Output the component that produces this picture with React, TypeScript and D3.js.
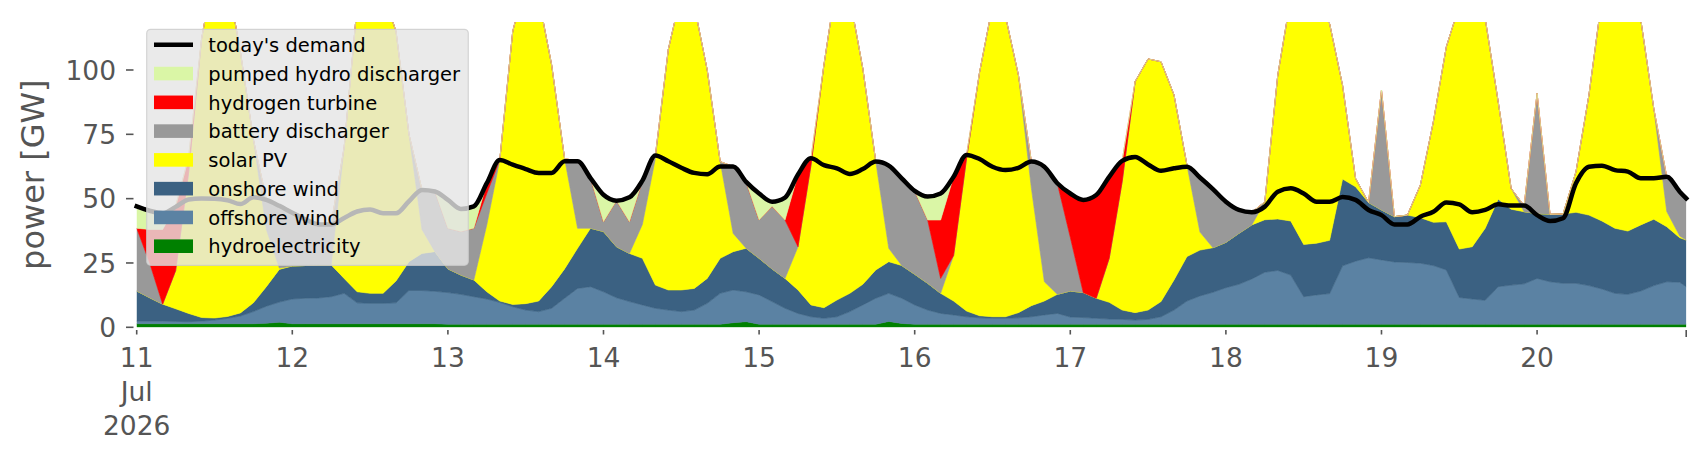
import { useEffect, useRef } from 'react';
import * as d3 from 'd3';

const WIDTH = 1706;
const HEIGHT = 460;

const start = new Date(2026, 6, 11, 0);
// hours after 11 Jul 00:00 for each sample (every 2 h, plus the final hour)
const hours = [...d3.range(0, 240, 2), 239];

const hydroelectricity = [
  1.4, 1.4, 1.4, 1.4, 1.4, 1.4, 1.4, 1.4, 1.4, 1.4, 1.6, 2.0,
  1.4, 1.4, 1.4, 1.4, 1.4, 1.4, 1.4, 1.4, 1.4, 1.4, 1.4, 1.4,
  1.2, 1.2, 1.2, 1.2, 1.2, 1.2, 1.2, 1.2, 1.2, 1.2, 1.2, 1.2,
  1.2, 1.2, 1.2, 1.2, 1.2, 1.2, 1.2, 1.2, 1.2, 1.2, 1.8, 2.2,
  1.2, 1.2, 1.2, 1.2, 1.2, 1.2, 1.2, 1.2, 1.2, 1.2, 2.3, 1.5,
  1.2, 1.2, 1.2, 1.2, 1.2, 1.2, 1.2, 1.2, 1.2, 1.2, 1.2, 1.2,
  1.2, 1.2, 1.2, 1.2, 1.2, 1.2, 1.2, 1.2, 1.2, 1.2, 1.2, 1.2,
  1.2, 1.2, 1.2, 1.2, 1.2, 1.2, 1.2, 1.2, 1.2, 1.2, 1.2, 1.2,
  1.2, 1.2, 1.2, 1.2, 1.2, 1.2, 1.2, 1.2, 1.2, 1.2, 1.2, 1.2,
  1.2, 1.2, 1.2, 1.2, 1.2, 1.2, 1.2, 1.2, 1.2, 1.2, 1.2, 1.2,
  1.2,
];

const offshoreWind = [
  1.0, 1.0, 1.0, 0.9, 0.8, 1.0, 1.4, 2.1, 3.0, 4.7, 6.6, 7.8,
  9.6, 9.9, 10.0, 10.5, 11.8, 8.1, 7.9, 7.9, 8.1, 12.9, 12.9, 12.6,
  12.3, 11.6, 10.7, 9.8, 8.5, 6.8, 5.5, 4.9, 6.2, 10.1, 13.9, 14.6,
  12.6, 10.3, 8.8, 7.5, 6.2, 5.5, 4.9, 5.5, 8.1, 12.0, 12.7, 11.6,
  11.4, 8.8, 6.2, 4.2, 2.9, 2.3, 2.9, 4.9, 7.5, 10.1, 10.9, 9.8,
  7.5, 5.5, 4.2, 3.6, 2.9, 2.5, 2.3, 2.3, 2.5, 2.9, 3.6, 4.2,
  2.8, 2.6, 2.3, 2.0, 1.9, 1.6, 1.9, 2.9, 5.5, 9.0, 11.0, 12.4,
  14.2, 15.5, 17.6, 20.2, 20.9, 19.1, 10.7, 11.4, 11.9, 22.7, 24.5, 25.8,
  25.0, 24.2, 24.0, 23.7, 22.8, 21.1, 10.4, 9.8, 9.3, 14.6, 15.2, 15.7,
  17.8, 16.5, 15.9, 15.9, 15.0, 13.7, 12.0, 11.6, 12.9, 15.0, 16.5, 16.3,
  14.6,
];

const onshoreWind = [
  11.7, 9.1, 6.6, 4.9, 3.2, 1.4, 0.8, 0.7, 1.2, 3.4, 7.6, 12.7,
  12.8, 12.7, 12.8, 12.3, 5.8, 4.3, 3.9, 3.9, 8.5, 11.2, 14.4, 15.4,
  9.2, 7.5, 6.5, 2.8, 0.5, 0.9, 2.5, 4.1, 8.4, 11.4, 15.6, 22.7,
  23.4, 19.8, 18.7, 18.1, 9.0, 7.8, 8.4, 8.4, 9.7, 13.6, 14.9, 16.9,
  14.2, 12.7, 11.6, 9.1, 4.6, 4.1, 6.5, 7.1, 8.0, 11.0, 12.3, 12.7,
  11.9, 10.4, 7.8, 5.4, 2.2, 0.8, 0.6, 0.6, 2.0, 4.3, 5.4, 7.4,
  10.1, 9.7, 7.8, 6.5, 3.6, 2.9, 3.6, 5.9, 11.7, 17.3, 17.8, 17.3,
  17.6, 19.8, 21.0, 20.4, 20.0, 21.0, 20.3, 20.1, 20.7, 33.7, 28.9, 21.5,
  19.4, 17.6, 18.4, 17.7, 16.8, 18.7, 18.8, 20.3, 28.0, 34.0, 29.5, 28.0,
  25.2, 26.2, 26.9, 27.6, 27.4, 26.4, 25.3, 24.6, 25.7, 25.8, 21.4, 17.3,
  18.1,
];

const solarPV = [
  0, 0, 0, 14.8, 54.6, 108.2, 136.4, 130.8, 101.4, 63.5, 22.2, 0.5,
  0, 0, 0, 0, 51, 111.2, 121.8, 116.8, 97, 49.5, 9.3, 0,
  0, 0, 0, 26, 54.8, 106.1, 125.8, 117.8, 86.2, 42.9, 7.8, 0,
  0, 0, 0, 13.2, 49.2, 93.5, 115.5, 109.9, 81, 37.6, 7.1, 0,
  0, 0, 0, 16.8, 54.3, 94.4, 124.4, 114.8, 83.9, 42.1, 5.2, 0,
  0, 0, 0, 17.7, 59.4, 94.5, 120.9, 116.9, 92.3, 45.6, 7.5, 0,
  0, 0, 0, 17.1, 49.9, 89.8, 97.6, 93.2, 71.9, 35.5, 7, 0,
  0, 0, 0, 7.0, 55.9, 86.7, 97.8, 92.3, 84.2, 36.4, 3.3, 0,
  0, 0, 0, 12.7, 39.1, 68, 94.6, 98.7, 81.5, 37.9, 8.1, 0,
  0, 0, 0, 15.8, 46.7, 86.7, 96.5, 92.6, 79.7, 43, 5.9, 0.7,
  0,
];

const batteryDischarger = [
  24.4, 13.5, 0, 0, 0, 0, 0, 0, 0, 0, 11.5, 24.2,
  20.7, 18, 15.8, 15.8, 0, 0, 0, 0, 0, 0, 15.4, 23.4,
  15.8, 16.9, 20.1, 12.2, 0, 0, 0, 0, 0, 0, 26, 19.5,
  3.8, 17.9, 12.3, 17, 1.2, 0, 0, 0, 0, 0, 26, 25.8,
  14.9, 24.3, 22.7, 0, 0, 0, 0, 0, 0, 0, 32.1, 33.9,
  32.4, 24.6, 5.8, 0, 0, 0, 0, 0, 0, 10.4, 44.7, 43.2,
  20.9, 0, 0, 0, 0, 0, 0, 0, 0, 0, 21.2, 22.8,
  15.8, 9.1, 4.9, 0, 0, 0, 0, 0, 0, 0, 0, 0,
  46.6, 0, 0, 0, 0, 0, 0, 0, 0, 0, 0, 2.4,
  46.7, 0, 0, 0, 0, 0, 0, 0, 0, 0, 13.5, 17.2,
  16.2,
];

const hydrogenTurbine = [
  0, 13, 29, 25, 6, 0, 0, 0, 0, 0, 0, 0,
  0, 0, 0, 0, 0, 0, 0, 0, 0, 0, 0, 0,
  0, 0, 0, 4, 0, 0, 0, 0, 0, 0, 0, 0,
  0, 0, 0, 0, 0, 0, 0, 0, 0, 0, 0, 0,
  0, 0, 0, 28.1, 2.7, 0, 0, 0, 0, 0, 0, 0,
  0, 0, 22.7, 30.6, 1.3, 0, 0, 0, 0, 0, 0, 0,
  17, 36, 40.1, 31.7, 8.1, 0, 0, 0, 0, 0, 0, 0,
  0, 0, 0, 0, 0, 0, 0, 0, 0, 0, 0, 0,
  0, 0, 0, 0, 0, 0, 0, 0, 0, 0, 0, 0,
  0, 0, 0, 0, 0, 0, 0, 0, 0, 0, 0, 0,
  0,
];

const pumpedHydroDischarger = [
  7.5, 6.5, 5.5, 0, 0, 0, 0, 0, 0, 0, 0, 0,
  0, 0, 0, 0, 0, 0, 0, 0, 0, 0, 0, 0,
  10.5, 8.8, 8.5, 0, 0, 0, 0, 0, 0, 0, 0, 0,
  10.5, 0, 9.5, 0, 0, 0, 0, 0, 0, 0, 0, 0,
  10.3, 1.8, 8.7, 0, 0, 0, 0, 0, 0, 0, 0, 0,
  0, 9.1, 10.3, 0, 0, 0, 0, 0, 0, 0, 0, 0,
  0, 0, 0, 0, 0, 0, 0, 0, 0, 0, 0, 0,
  0, 0, 0, 0, 0, 0, 0, 0, 0, 0, 0, 0,
  0, 0, 0, 0, 0, 0, 0, 0, 0, 0, 0, 0,
  0, 0, 0, 0, 0, 0, 0, 0, 0, 0, 0, 0,
  0,
];

const todaysDemand = [
  47, 45.3, 44.3, 46.8, 49.7, 50.1, 50, 49.4, 47.9, 50.5, 49.5, 47.2,
  44.5, 42, 40, 40, 42.5, 45, 45.8, 44.3, 44.3, 49, 53.4, 52.8,
  49.5, 46, 47, 56, 65, 63.2, 61.5, 60, 60, 64.5, 64.5, 58,
  51.5, 49.2, 50.5, 57, 66.8, 64.5, 62, 60, 59.5, 62.5, 62.5, 56.5,
  52, 48.8, 50.4, 59.4, 65.7, 63, 61.8, 59.6, 61.5, 64.4, 62.8, 57.9,
  53, 50.8, 52, 58.5, 67, 65.4, 62.4, 61.1, 62, 64.4, 62.4, 56,
  52, 49.5, 51.4, 58.5, 64.7, 66.2, 63.3, 60.8, 61.8, 62.4, 58.2, 53.7,
  48.8, 45.6, 44.7, 46.9, 52.7, 54, 52, 48.8, 48.8, 50.6, 49.5, 45.6,
  43.6, 40, 40, 43, 44.9, 48.5, 47.8, 44.7, 45.6, 47.8, 47.3, 47.3,
  43.6, 41.3, 42.4, 56, 62.4, 62.8, 61.1, 60.5, 57.9, 57.9, 58.5, 52.7,
  50.1,
];

const yTicks = [0, 25, 50, 75, 100];

// stacking order, bottom to top
const carriers = [
  { key: 'hydroelectricity', color: '#008000', values: hydroelectricity },
  { key: 'offshore wind', color: '#5b82a3', values: offshoreWind },
  { key: 'onshore wind', color: '#3b6182', values: onshoreWind },
  { key: 'solar PV', color: '#ffff00', values: solarPV },
  { key: 'battery discharger', color: '#999999', values: batteryDischarger },
  { key: 'hydrogen turbine', color: '#ff0000', values: hydrogenTurbine },
  { key: 'pumped hydro discharger', color: '#daf6a6', values: pumpedHydroDischarger },
];

const FONT = '"DejaVu Sans", sans-serif';
const GREY = '#555555';

export default function App() {
  const svgRef = useRef<SVGSVGElement>(null);

  useEffect(() => {
    if (!svgRef.current) return;
    const svg = d3.select(svgRef.current);
    svg.selectAll('*').remove();

    const left = 136.7;
    const right = 1686.2;
    const top = 22;
    const bottom = 327.3;

    const times = hours.map((h) => d3.timeHour.offset(start, h));
    const end = times[times.length - 1];

    const x = d3.scaleTime().domain([start, end]).range([left, right]);
    const y = d3.scaleLinear().domain([0, 118.65]).range([bottom, top]);

    const rows = hours.map((_, i) => {
      const r: Record<string, number> = {};
      carriers.forEach((c) => (r[c.key] = c.values[i]));
      return r;
    });
    const layers = d3.stack<Record<string, number>>().keys(carriers.map((c) => c.key))(rows);

    svg.append('defs')
      .append('clipPath')
      .attr('id', 'plot-clip')
      .append('rect')
      .attr('x', left)
      .attr('y', top)
      .attr('width', right - left)
      .attr('height', bottom - top);

    const plot = svg.append('g').attr('clip-path', 'url(#plot-clip)');

    const area = d3.area<d3.SeriesPoint<Record<string, number>>>()
      .x((_, i) => x(times[i]))
      .y0((d) => y(d[0]))
      .y1((d) => y(d[1]));

    layers.forEach((layer, li) => {
      plot.append('path')
        .attr('d', area(layer) as string)
        .attr('fill', carriers[li].color)
        .attr('stroke', carriers[li].color)
        .attr('stroke-width', 0.6);
    });

    const demandLine = d3.line<number>()
      .x((_, i) => x(times[i]))
      .y((d) => y(d))
      .curve(d3.curveMonotoneX);

    svg.append('path')
      .attr('d', demandLine(todaysDemand) as string)
      .attr('fill', 'none')
      .attr('stroke', '#000')
      .attr('stroke-width', 4.5)
      .attr('stroke-linejoin', 'round')
      .attr('stroke-linecap', 'square');

    // y axis
    const yAxis = svg.append('g');
    yTicks.forEach((t) => {
      yAxis.append('line')
        .attr('x1', 126).attr('x2', 133.5)
        .attr('y1', y(t)).attr('y2', y(t))
        .attr('stroke', GREY).attr('stroke-width', 1.6);
      yAxis.append('text')
        .attr('x', 116)
        .attr('y', y(t) + 9.6)
        .attr('text-anchor', 'end')
        .attr('fill', GREY)
        .attr('font-family', FONT)
        .attr('font-size', '26.5px')
        .text(t);
    });

    svg.append('text')
      .attr('transform', `translate(44, ${(top + bottom) / 2}) rotate(-90)`)
      .attr('text-anchor', 'middle')
      .attr('fill', GREY)
      .attr('font-family', FONT)
      .attr('font-size', '32px')
      .text('power [GW]');

    // x axis: one tick per day
    const days = d3.timeDay.range(start, d3.timeHour.offset(end, 1));
    const xAxis = svg.append('g');
    days.forEach((d, i) => {
      xAxis.append('line')
        .attr('x1', x(d)).attr('x2', x(d))
        .attr('y1', 330).attr('y2', 334.5)
        .attr('stroke', GREY).attr('stroke-width', 1.6);
      const lines = i === 0 ? [String(d.getDate()), 'Jul', String(d.getFullYear())] : [String(d.getDate())];
      lines.forEach((s, k) => {
        xAxis.append('text')
          .attr('x', x(d))
          .attr('y', 366.5 + k * 34)
          .attr('text-anchor', 'middle')
          .attr('fill', GREY)
          .attr('font-family', FONT)
          .attr('font-size', '26.5px')
          .text(s);
      });
    });
    xAxis.append('line')
      .attr('x1', x(end)).attr('x2', x(end))
      .attr('y1', 330).attr('y2', 337)
      .attr('stroke', GREY).attr('stroke-width', 1.6);

    // legend
    const legend = svg.append('g');
    legend.append('rect')
      .attr('x', 146.7).attr('y', 29.3)
      .attr('width', 468.3 - 146.7).attr('height', 265.3 - 29.3)
      .attr('rx', 4).attr('ry', 4)
      .attr('fill', '#e5e5e5').attr('fill-opacity', 0.8)
      .attr('stroke', '#cccccc').attr('stroke-opacity', 0.8).attr('stroke-width', 1.2);

    const entries = [
      { label: "today's demand", color: '#000000', line: true },
      ...carriers.slice().reverse().map((c) => ({ label: c.key, color: c.color, line: false })),
    ];
    const rowY = d3.scaleLinear().domain([0, entries.length - 1]).range([44.8, 246.2]);
    entries.forEach((e, i) => {
      const cy = rowY(i);
      if (e.line) {
        legend.append('line')
          .attr('x1', 154).attr('x2', 193)
          .attr('y1', cy).attr('y2', cy)
          .attr('stroke', e.color).attr('stroke-width', 4.5);
      } else {
        legend.append('rect')
          .attr('x', 154).attr('y', cy - 6.8)
          .attr('width', 39).attr('height', 13.6)
          .attr('fill', e.color);
      }
      legend.append('text')
        .attr('x', 208.3)
        .attr('y', cy + 7.2)
        .attr('fill', '#000')
        .attr('font-family', FONT)
        .attr('font-size', '19.5px')
        .text(e.label);
    });
  }, []);

  return (
    <svg
      ref={svgRef}
      width={WIDTH}
      height={HEIGHT}
      style={{ position: 'absolute', left: 0, top: 0, background: '#fff' }}
    />
  );
}
